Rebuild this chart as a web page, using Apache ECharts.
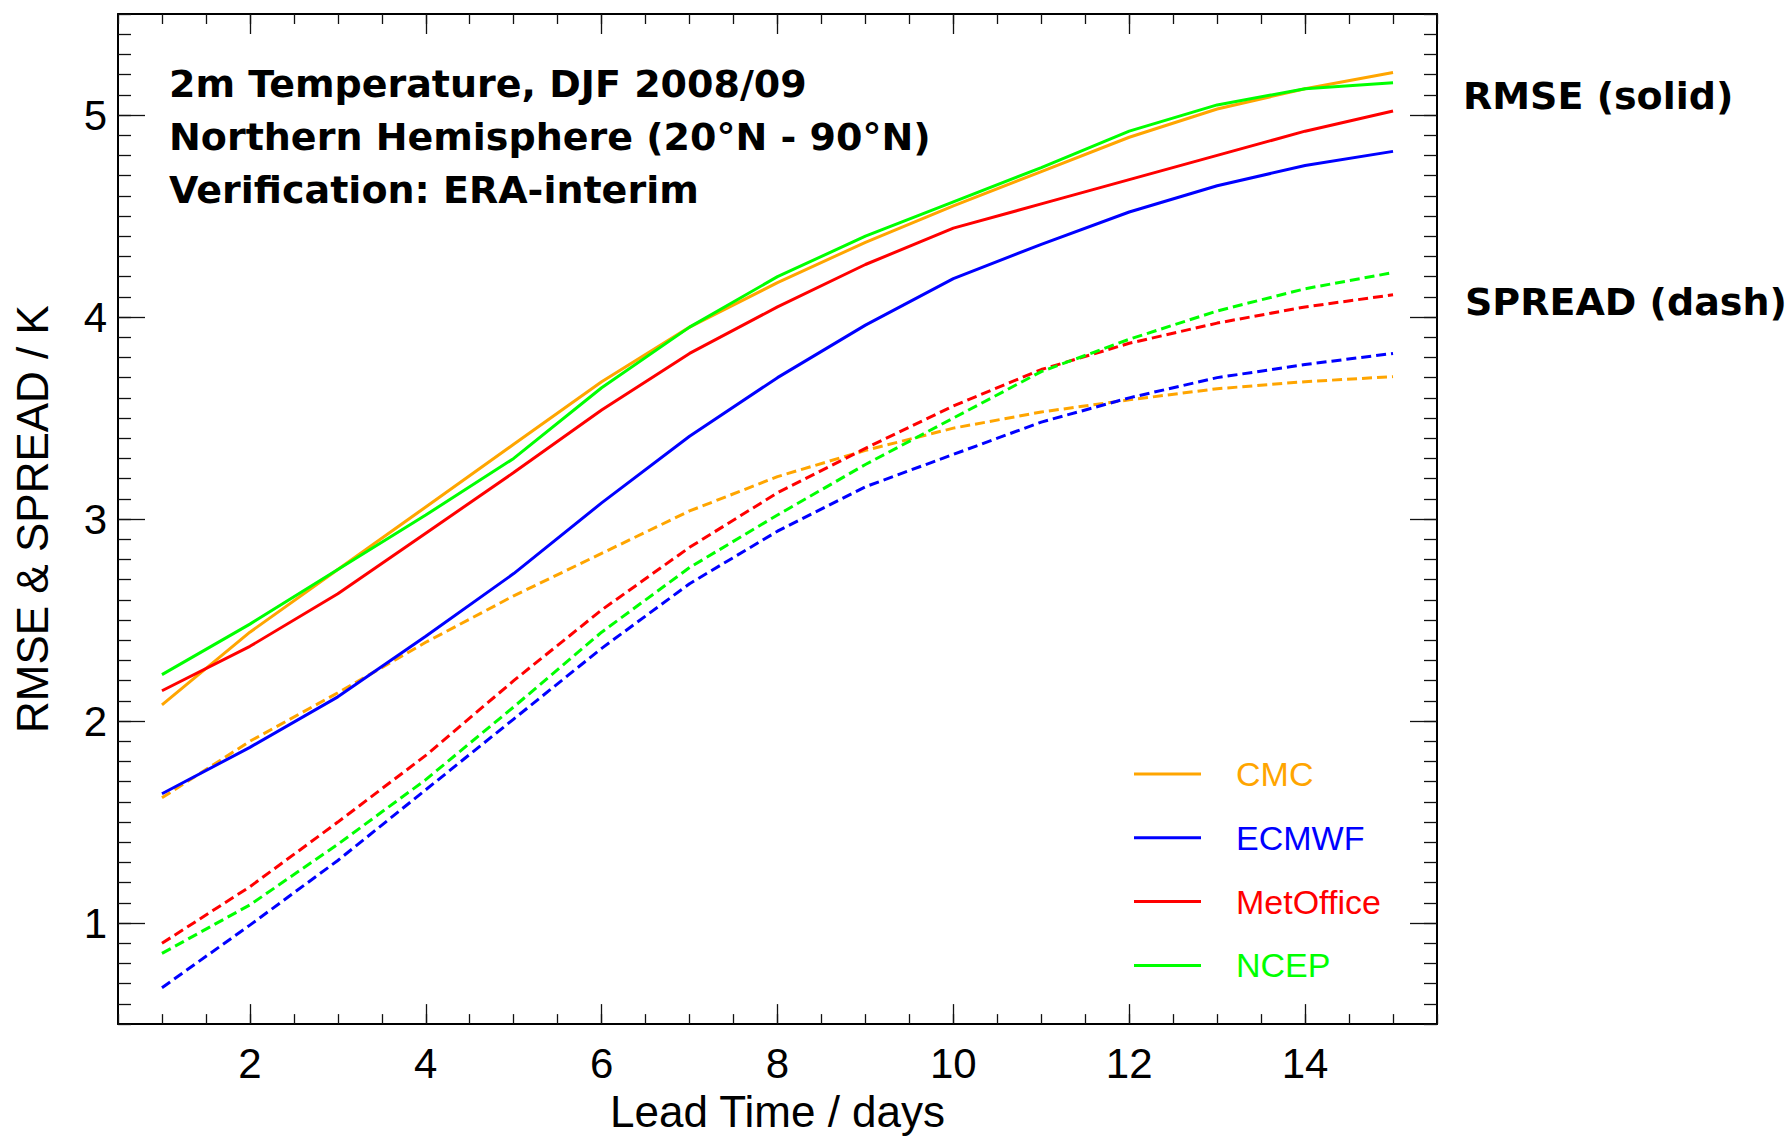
<!DOCTYPE html>
<html><head><meta charset="utf-8">
<script src="https://cdn.jsdelivr.net/npm/echarts@6/dist/echarts.min.js"></script>
<style>html,body{margin:0;padding:0;background:#fff}#c{width:1790px;height:1138px}</style>
</head><body><div id="c"></div>
<script>
// ---- data ----
const leadDays = [1, 2, 3, 4, 5, 6, 7, 8, 9, 10, 11, 12, 13, 14, 15];
const models = ['CMC', 'ECMWF', 'MetOffice', 'NCEP'];
const modelColors = ['#FFA500', '#0000FF', '#FF0000', '#00FF00'];
const cmcRmse      = [2.08, 2.44, 2.75, 3.06, 3.37, 3.68, 3.95, 4.17, 4.37, 4.55, 4.72, 4.89, 5.03, 5.13, 5.21];
const ecmwfRmse    = [1.64, 1.87, 2.12, 2.42, 2.73, 3.08, 3.41, 3.70, 3.96, 4.19, 4.36, 4.52, 4.65, 4.75, 4.82];
const metofficeRmse= [2.15, 2.37, 2.63, 2.93, 3.23, 3.54, 3.82, 4.05, 4.26, 4.44, 4.56, 4.68, 4.80, 4.92, 5.02];
const ncepRmse     = [2.23, 2.48, 2.75, 3.02, 3.30, 3.65, 3.95, 4.20, 4.40, 4.57, 4.74, 4.92, 5.05, 5.13, 5.16];
const cmcSpread      = [1.62, 1.90, 2.14, 2.39, 2.62, 2.83, 3.04, 3.21, 3.34, 3.45, 3.53, 3.59, 3.645, 3.68, 3.705];
const ecmwfSpread    = [0.68, 0.99, 1.31, 1.66, 2.01, 2.36, 2.68, 2.94, 3.16, 3.32, 3.48, 3.60, 3.70, 3.765, 3.82];
const metofficeSpread= [0.90, 1.18, 1.50, 1.83, 2.20, 2.55, 2.86, 3.13, 3.35, 3.56, 3.74, 3.87, 3.97, 4.05, 4.11];
const ncepSpread     = [0.85, 1.09, 1.39, 1.71, 2.07, 2.44, 2.76, 3.02, 3.27, 3.50, 3.73, 3.89, 4.03, 4.14, 4.22];
const xMajorTicks = [2, 4, 6, 8, 10, 12, 14];
const yMajorTicks = [1, 2, 3, 4, 5];
const titleLines = ['2m Temperature, DJF 2008/09', 'Northern Hemisphere (20°N - 90°N)', 'Verification: ERA-interim'];

const rmseSets = [cmcRmse, ecmwfRmse, metofficeRmse, ncepRmse];
const spreadSets = [cmcSpread, ecmwfSpread, metofficeSpread, ncepSpread];

// ---- chart ----
const chart = echarts.init(document.getElementById('c'), null, {renderer: 'svg'});
const LBL = 'Liberation Sans';
const X_MIN = 0.5, X_MAX = 15.5, Y_MIN = 0.5, Y_MAX = 5.5;
const tickStyle = {color: '#111', width: 1.3};

function xAxisDef(pos, major) {
  return {
    type: 'value', position: pos, min: X_MIN, max: X_MAX,
    interval: major ? undefined : 0.5,
    axisLine: {show: major, onZero: false, lineStyle: {color: '#000', width: 2}},
    axisTick: major ? {show: true, inside: true, length: 20, customValues: xMajorTicks, lineStyle: tickStyle}
                    : {show: true, inside: true, length: 10, lineStyle: tickStyle},
    axisLabel: (major && pos === 'bottom') ? {show: true, customValues: xMajorTicks, fontSize: 42, color: '#000', fontFamily: LBL, margin: 18}
                                           : {show: false},
    splitLine: {show: false},
    name: (major && pos === 'bottom') ? 'Lead Time / days' : '',
    nameLocation: 'middle', nameGap: 63,
    nameTextStyle: {fontSize: 44, color: '#000', fontFamily: LBL}
  };
}
function yAxisDef(pos, major) {
  return {
    type: 'value', position: pos, min: Y_MIN, max: Y_MAX,
    interval: major ? undefined : 0.1,
    axisLine: {show: major, onZero: false, lineStyle: {color: '#000', width: 2}},
    axisTick: major ? {show: true, inside: true, length: 27, customValues: yMajorTicks, lineStyle: tickStyle}
                    : {show: true, inside: true, length: 13, lineStyle: tickStyle},
    axisLabel: (major && pos === 'left') ? {show: true, customValues: yMajorTicks, fontSize: 42, color: '#000', fontFamily: LBL, margin: 11}
                                         : {show: false},
    splitLine: {show: false},
    name: (major && pos === 'left') ? 'RMSE & SPREAD / K' : '',
    nameLocation: 'middle', nameGap: 64, nameRotate: 90,
    nameTextStyle: {fontSize: 44, color: '#000', fontFamily: LBL}
  };
}

const series = [];
models.forEach((m, k) => {
  series.push({
    name: m, type: 'line', xAxisIndex: 0, yAxisIndex: 0, showSymbol: false, symbol: 'none',
    color: modelColors[k], lineStyle: {width: 3, color: modelColors[k]},
    data: leadDays.map((d, i) => [d, rmseSets[k][i]]), z: 3, animation: false
  });
});
models.forEach((m, k) => {
  series.push({
    name: m + ' spread', type: 'line', xAxisIndex: 0, yAxisIndex: 0, showSymbol: false, symbol: 'none',
    color: modelColors[k], lineStyle: {width: 3, color: modelColors[k], type: [10, 5]},
    data: leadDays.map((d, i) => [d, spreadSets[k][i]]), z: 2, animation: false
  });
});

chart.setOption({
  animation: false,
  backgroundColor: '#fff',
  title: [
    {text: titleLines.join('\n'), left: 169, top: 57, padding: 0,
     textStyle: {fontFamily: 'DejaVu Sans', fontWeight: 'bold', fontSize: 38, lineHeight: 53, color: '#000'}},
    {text: 'RMSE (solid)', left: 1463, top: 74, padding: 0,
     textStyle: {fontFamily: 'DejaVu Sans', fontWeight: 'bold', fontSize: 38, lineHeight: 44, color: '#000'}},
    {text: 'SPREAD (dash)', left: 1465, top: 280, padding: 0,
     textStyle: {fontFamily: 'DejaVu Sans', fontWeight: 'bold', fontSize: 38, lineHeight: 44, color: '#000'}}
  ],
  legend: {
    orient: 'vertical', left: 1134, top: 757, padding: 0,
    icon: 'rect', itemWidth: 67, itemHeight: 3, itemGap: 29.8,
    selectedMode: false,
    data: models.map((m, k) => ({name: m, textStyle: {color: modelColors[k]}})),
    textStyle: {fontSize: 34, fontFamily: LBL, lineHeight: 33, padding: [0, 0, 0, 30]}
  },
  grid: {left: 118, right: 353, top: 14, bottom: 110, containLabel: false},
  xAxis: [xAxisDef('bottom', true), xAxisDef('bottom', false), xAxisDef('top', true), xAxisDef('top', false)],
  yAxis: [yAxisDef('left', true), yAxisDef('left', false), yAxisDef('right', true), yAxisDef('right', false)],
  series: series
});
</script></body></html>
